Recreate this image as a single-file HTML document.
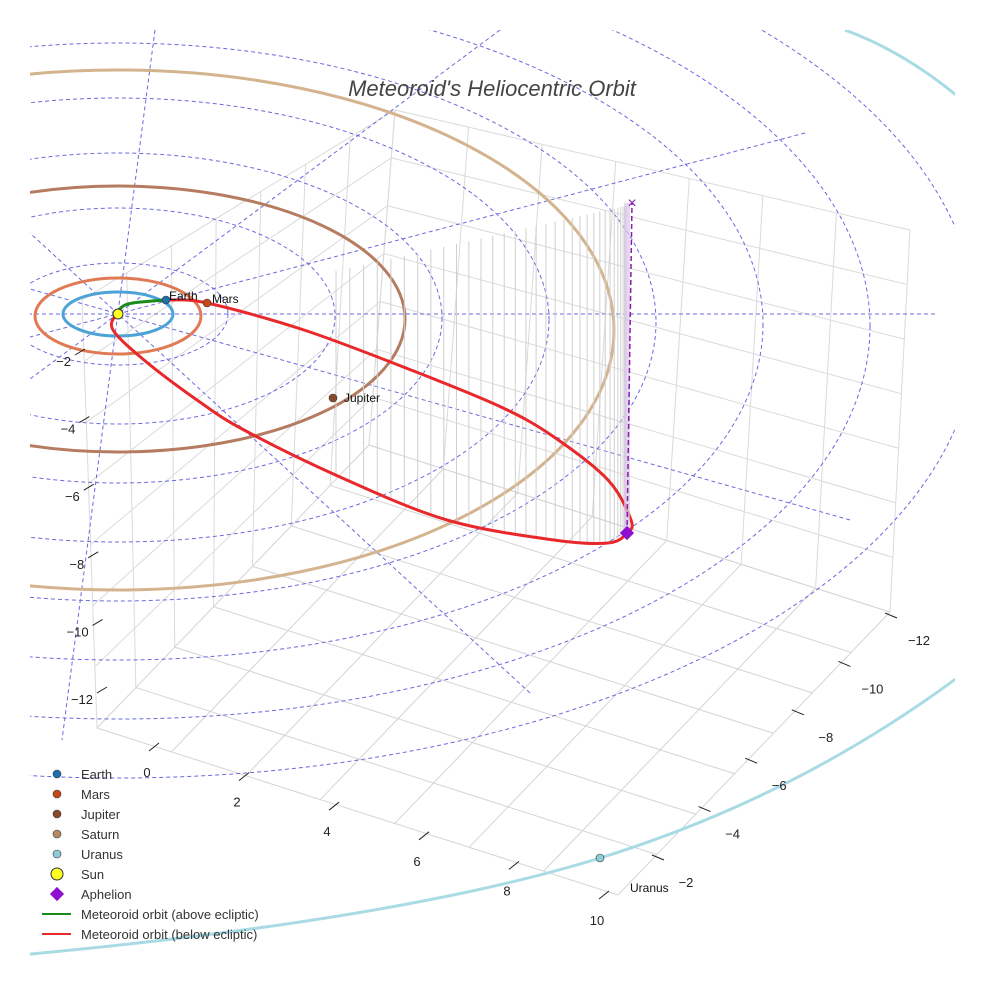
<!DOCTYPE html>
<html><head><meta charset="utf-8"><style>
body{margin:0;background:#fff}
svg{display:block;font-family:"Liberation Sans",sans-serif}
</style></head><body>
<svg id="s" width="984" height="984" viewBox="0 0 984 984">
<defs><clipPath id="clip"><rect x="30" y="30" width="925" height="954"/></clipPath></defs>
<g id="box"></g>
<g id="ecl" clip-path="url(#clip)"></g>
<g id="orb" clip-path="url(#clip)"></g>
<g id="met"></g>
<g id="ticks"></g>
<text x="492" y="96" text-anchor="middle" font-size="22" font-style="italic" fill="#444">Meteoroid's Heliocentric Orbit</text>
<g id="leg"></g>
</svg>
<script>
const planetNames=["Earth","Mars","Jupiter","Saturn"];
const planetRx=[55,83,287,496];
const planetRy=[22,38,133,260];
const planetCy=[314,316,319,330];
const planetColors=["#4da3d6","#e07a55","#b57c62","#d4b48e"];
const markerColors=["#1f6fb0","#c8481a","#8b4a2c","#b58a66","#8fcbd8"];
const ringIdx=[1,2,3,4,5,6,7,8];
const rayEnds=[[155,30,62,740],[500,30,30,379],[805,133,30,337],[935,314,30,314],[850,520,30,289],[530,693,30,233]];
const xTicks=["0","2","4","6","8","10"];
const yTicks=["−12","−10","−8","−6","−4","−2"];
const zTicks=["−2","−4","−6","−8","−10","−12"];
// projected meteoroid orbit trace (screen space)
const orbitUpperX=[116,128,166,207,304,411,501,554,608,631];
const orbitUpperY=[314,304,300,303,330,370,407,437,480,520];
const orbitLowerX=[627,608,554,447,340,244,197,144,113,116];
const orbitLowerY=[533,543,540,520,477,430,400,360,330,314];
const NS="http://www.w3.org/2000/svg";
const SUN=[118,314];
function el(tag,attrs,parent){const e=document.createElementNS(NS,tag);for(const k in attrs)e.setAttribute(k,attrs[k]);parent.appendChild(e);return e;}
const box=document.getElementById('box');
const A=[97,728],B=[618,895],C=[890,612],D=[A[0]+C[0]-B[0],A[1]+C[1]-B[1]];
const lerp=(p,q,t)=>[p[0]+(q[0]-p[0])*t,p[1]+(q[1]-p[1])*t];
const At=[82,300],Dt=[395,110],Ct=[910,230];
const N=7;
for(let i=0;i<=N;i++){const t=i/N;
 let p=lerp(A,B,t),q=lerp(D,C,t);let l=el('line',{x1:p[0],y1:p[1],x2:q[0],y2:q[1],stroke:'#d4d4d4'},box);
 p=lerp(B,C,t);q=lerp(A,D,t);l=el('line',{x1:p[0],y1:p[1],x2:q[0],y2:q[1],stroke:'#d4d4d4'},box);
 p=lerp(D,C,t);q=lerp(Dt,Ct,t);l=el('line',{x1:p[0],y1:p[1],x2:q[0],y2:q[1],stroke:'#dadada'},box);
 p=lerp(D,Dt,t);q=lerp(C,Ct,t);l=el('line',{x1:p[0],y1:p[1],x2:q[0],y2:q[1],stroke:'#dadada'},box);
 p=lerp(A,D,t);q=lerp(At,Dt,t);l=el('line',{x1:p[0],y1:p[1],x2:q[0],y2:q[1],stroke:'#dadada'},box);
 p=lerp(A,At,t);q=lerp(D,Dt,t);l=el('line',{x1:p[0],y1:p[1],x2:q[0],y2:q[1],stroke:'#dadada'},box);
}
const ecl=document.getElementById('ecl');
ringIdx.forEach(i=>{const rx=3+107*i, ry=51+57*(i-1);
 const e=el('ellipse',{cx:SUN[0],cy:SUN[1]+(i-1)*2,rx:rx,ry:ry,fill:'none',stroke:'#6a6ae0','stroke-width':1,'stroke-dasharray':'4,3'},ecl);
 });
rayEnds.forEach(r=>{const l=el('line',{x1:r[0],y1:r[1],x2:r[2],y2:r[3],stroke:'#6a6ae0','stroke-width':1,'stroke-dasharray':'4,3'},ecl);
 });
const orb=document.getElementById('orb');
planetNames.forEach((n,i)=>{const e=el('ellipse',{cx:SUN[0],cy:planetCy[i],rx:planetRx[i],ry:planetRy[i],fill:'none',stroke:planetColors[i],'stroke-width':3},orb);
 });
let uo=el('path',{d:'M20,955 Q400,920 600,858 T965,672 M845,30 Q905,52 962,100',fill:'none',stroke:'#a9dbe5','stroke-width':3},orb);

const met=document.getElementById('met');
function crPath(X,Y){const n=X.length;let d='M'+X[0]+','+Y[0];
 for(let i=0;i<n-1;i++){const i0=Math.max(0,i-1),i3=Math.min(n-1,i+2);
  const c1x=X[i]+(X[i+1]-X[i0])/6,c1y=Y[i]+(Y[i+1]-Y[i0])/6,c2x=X[i+1]-(X[i3]-X[i])/6,c2y=Y[i+1]-(Y[i3]-Y[i])/6;
  d+=`C${c1x.toFixed(1)},${c1y.toFixed(1)} ${c2x.toFixed(1)},${c2y.toFixed(1)} ${X[i+1]},${Y[i+1]}`;}
 return d;}
function lowerY(x){for(let i=0;i<orbitLowerX.length-1;i++){const a=orbitLowerX[i],b=orbitLowerX[i+1];if((x<=a&&x>=b)){const t=(a-x)/(a-b);return orbitLowerY[i]+(orbitLowerY[i+1]-orbitLowerY[i])*t;}}return null;}
for(let k=0;k<34;k++){const xx=336+290*Math.sin(k/33*Math.PI/2);const yy=lowerY(xx);if(yy==null)continue;
 const top=270-(xx-340)*65/290;
 const l=el('line',{x1:xx,y1:yy,x2:xx,y2:top,stroke:'#cfcfcf','stroke-width':1},met);
 }
const ux=orbitUpperX.slice(2),uy=orbitUpperY.slice(2);
const fullX=ux.concat(orbitLowerX),fullY=uy.concat(orbitLowerY);
let pth=el('path',{d:crPath(fullX,fullY),fill:'none',stroke:'#e8282a','stroke-width':3,'stroke-linejoin':'round'},met);
pth=el('path',{d:crPath(orbitUpperX.slice(0,3),orbitUpperY.slice(0,3)),fill:'none',stroke:'#1a8a1a','stroke-width':3},met);
const ap=[627,533];
let r=el('rect',{x:ap[0]-3,y:203,width:6,height:ap[1]-203,fill:'#d8c8e8',opacity:0.7},met);
let l=el('line',{x1:ap[0],y1:ap[1],x2:632,y2:203,stroke:'#8a1ab0','stroke-width':1.5,'stroke-dasharray':'5,3'},met);
let x=el('text',{x:632,y:208,'text-anchor':'middle','font-size':16,fill:'#8a1ab0'},met);x.textContent='×';
let dm=el('rect',{x:ap[0]-5,y:ap[1]-5,width:10,height:10,fill:'#8e0fd0',transform:`rotate(45 ${ap[0]} ${ap[1]})`},met);
const mNames=["Earth","Mars","Jupiter","Saturn","Uranus"];
const planetPos=[[166,300],[207,303],[333,398],null,[600,858]];
const labelPos=[[169,300],[212,303],[344,402],null,[630,892]];
planetPos.forEach((p,i)=>{if(!p)return;const m=el('circle',{cx:p[0],cy:p[1],r:4,fill:markerColors[i],stroke:'#333','stroke-width':0.6},met);
 
 const t=el('text',{x:labelPos[i][0],y:labelPos[i][1],'font-size':12,fill:'#111'},met);t.textContent=mNames[i];
 });
let sun=el('circle',{cx:SUN[0],cy:SUN[1],r:5,fill:'#ffff20',stroke:'#333','stroke-width':1},met);
const tk=document.getElementById('ticks');
zTicks.forEach((s,i)=>{const px=75+i*4.4,py=355+i*67.6;
 const l=el('line',{x1:px,y1:py,x2:px+10,y2:py-6,stroke:'#222'},tk);
 const t=el('text',{x:px-4,y:py+11,'text-anchor':'end','font-size':13,fill:'#222'},tk);t.textContent=s;});
xTicks.forEach((s,i)=>{const px=155+i*90,py=745+i*29.6;
 const l=el('line',{x1:px-6,y1:py+6,x2:px+4,y2:py-2,stroke:'#222'},tk);
 const t=el('text',{x:px-8,y:py+32,'text-anchor':'middle','font-size':13,fill:'#222'},tk);t.textContent=s;});
yTicks.forEach((s,i)=>{const px=893-i*46.6,py=616+i*48.4;
 const l=el('line',{x1:px-8,y1:py-3,x2:px+4,y2:py+2,stroke:'#222'},tk);
 const t=el('text',{x:px+26,y:py+29,'text-anchor':'middle','font-size':13,fill:'#222'},tk);t.textContent=s;});
const leg=document.getElementById('leg');
const legLabels=["Earth","Mars","Jupiter","Saturn","Uranus","Sun","Aphelion","Meteoroid orbit (above ecliptic)","Meteoroid orbit (below ecliptic)"];
legLabels.forEach((s,i)=>{const y=774+i*20;let m;
 if(i<5){m=el('circle',{cx:57,cy:y,r:4,fill:markerColors[i],stroke:'#333','stroke-width':0.6},leg);}
 else if(i==5){m=el('circle',{cx:57,cy:y,r:6,fill:'#ffff20',stroke:'#333'},leg);}
 else if(i==6){m=el('rect',{x:52,y:y-5,width:10,height:10,fill:'#8e0fd0',transform:`rotate(45 57 ${y})`},leg);}
 else{m=el('line',{x1:42,y1:y,x2:71,y2:y,stroke:i==7?'#1a8a1a':'#e8282a','stroke-width':2},leg);}
 
 const t=el('text',{x:81,y:y+5,'font-size':13,fill:'#333'},leg);t.textContent=s;});
</script>
</body></html>
